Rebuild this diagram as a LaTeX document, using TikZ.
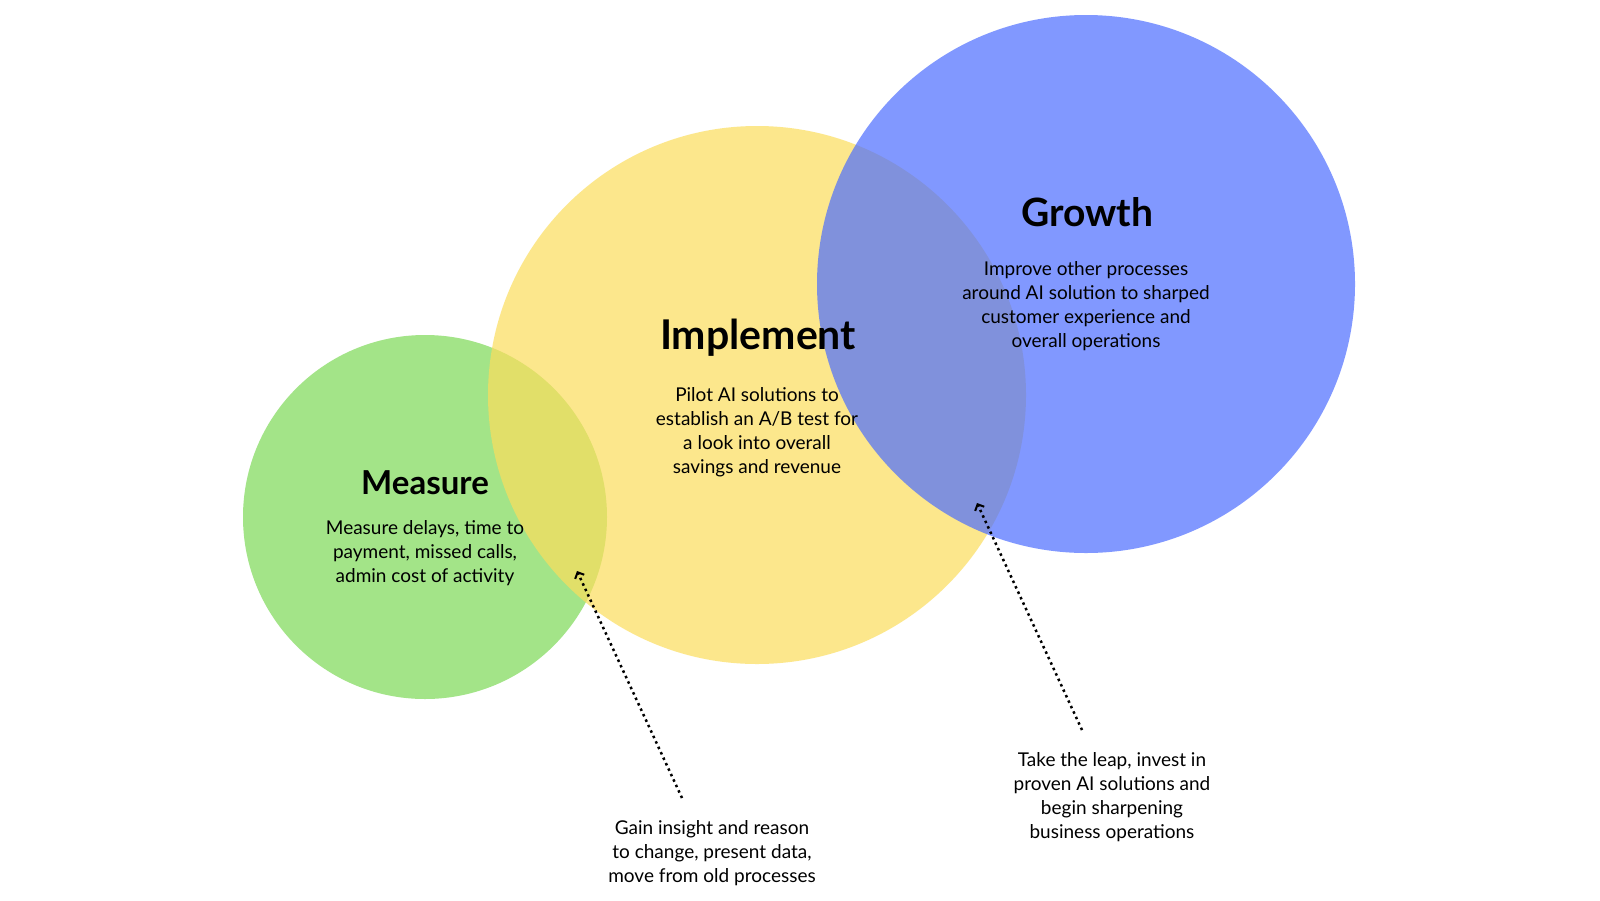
\documentclass[tikz,border=0pt]{standalone}
\usepackage{fontspec}
\setmainfont{Lato}
\usetikzlibrary{arrows.meta,positioning}

\definecolor{measuregreen}{RGB}{163,228,136}
\definecolor{implyellow}{RGB}{252,221,92}
\definecolor{growthblue}{RGB}{76,109,255}

\tikzset{
  stage/.style={circle,inner sep=0pt,fill opacity=0.7},
  title/.style={font=\fontsize{39}{44}\selectfont\bfseries,anchor=base,inner sep=0pt},
  body/.style={font=\fontsize{19}{24}\selectfont,align=center,anchor=north,inner sep=0pt},
  pointer/.style={line width=2.5pt,dash pattern=on 2.5pt off 3.5pt,-{Straight Barb[length=5pt,width=10pt,line width=2pt]}}
}

\begin{document}
\begin{tikzpicture}[x=1pt,y=-1pt]
\fill[white] (0,0) rectangle (1600,900);
\useasboundingbox (0,0) rectangle (1600,900);

\node[stage,fill=measuregreen,fill opacity=1,minimum size=364pt] (measure) at (425,517) {};
\node[stage,fill=implyellow,minimum size=538pt] (implement) at (757,395) {};
\node[stage,fill=growthblue,minimum size=538pt] (growth) at (1086,284) {};

\node[title,font=\fontsize{33}{36}\selectfont\bfseries] (measuretitle) at (425,494) {Measure};
\node[title,font=\fontsize{41}{44}\selectfont\bfseries] (impltitle) at (758,349) {Implement};
\node[title] (growthtitle) at (1087,226) {Growth};

\node[body] (measuretext) at (425,520) {Measure delays, time to\\payment, missed calls,\\admin cost of activity};
\node[body] (impltext) at (757,387) {Pilot AI solutions to\\establish an A/B test for\\a look into overall\\savings and revenue};
\node[body] (growthtext) at (1086,261) {Improve other processes\\around AI solution to sharped\\customer experience and\\overall operations};

\node[body] (gaintext) at (712,820) {Gain insight and reason\\to change, present data,\\move from old processes};
\node[body] (leaptext) at (1112,752) {Take the leap, invest in\\proven AI solutions and\\begin sharpening\\business operations};

\coordinate (gaintail) at (682,798);
\coordinate (gainhead) at (577,571);
\coordinate (leaptail) at (1082,730);
\coordinate (leaphead) at (977,503);
\draw[pointer] (gaintail) -- (gainhead);
\draw[pointer] (leaptail) -- (leaphead);
\end{tikzpicture}
\end{document}
